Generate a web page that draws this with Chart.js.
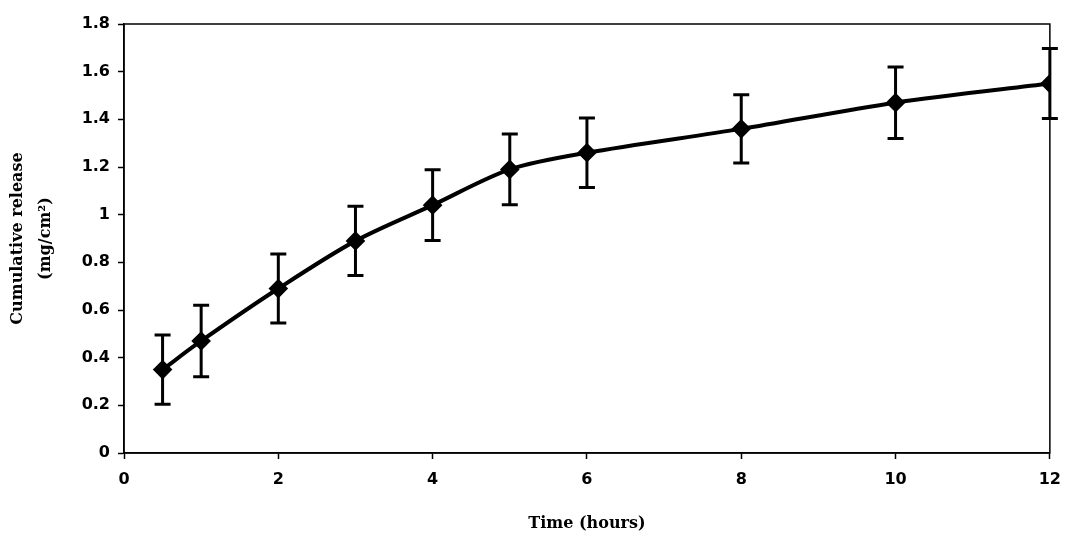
<!DOCTYPE html>
<html>
<head>
<meta charset="utf-8">
<script src="https://cdn.jsdelivr.net/npm/chart.js@4.4.1/dist/chart.umd.min.js"></script>
<style>
  html, body { margin: 0; padding: 0; background: #fff; }
  canvas { display: block; }
</style>
</head>
<body>
<canvas id="releaseChart" width="1072" height="539"></canvas>
<script>
// time points (hours)
const timeHours = [0.5, 1, 2, 3, 4, 5, 6, 8, 10, 12];
// cumulative release (mg/cm2)
const releaseMean = [0.35, 0.47, 0.69, 0.89, 1.04, 1.19, 1.26, 1.36, 1.47, 1.55];
// standard deviation
const releaseSD = [0.145, 0.15, 0.145, 0.145, 0.148, 0.148, 0.146, 0.143, 0.15, 0.147];

const xTicks = [0, 2, 4, 6, 8, 10, 12];
const yTicks = [0, 0.2, 0.4, 0.6, 0.8, 1, 1.2, 1.4, 1.6, 1.8];

const points = timeHours.map((t, i) => ({ x: t, y: releaseMean[i] }));

// error bars drawn behind the markers
const errorBars = {
  id: "errorBars",
  beforeDatasetsDraw(chart) {
    const { ctx, scales } = chart;
    ctx.save();
    ctx.strokeStyle = "#000";
    ctx.lineWidth = 3;
    timeHours.forEach((t, i) => {
      const px = scales.x.getPixelForValue(t);
      const top = scales.y.getPixelForValue(releaseMean[i] + releaseSD[i]);
      const bot = scales.y.getPixelForValue(releaseMean[i] - releaseSD[i]);
      ctx.beginPath();
      ctx.moveTo(px, top);
      ctx.lineTo(px, bot);
      ctx.moveTo(px - 8, top);
      ctx.lineTo(px + 8, top);
      ctx.moveTo(px - 8, bot);
      ctx.lineTo(px + 8, bot);
      ctx.stroke();
    });
    ctx.restore();
  },
};

// box round the plot area
const frame = {
  id: "frame",
  afterDraw(chart) {
    const { ctx, chartArea: a } = chart;
    ctx.save();
    ctx.strokeStyle = "#000";
    ctx.lineWidth = 1.5;
    ctx.strokeRect(a.left, a.top, a.right - a.left, a.bottom - a.top);
    ctx.restore();
  },
};

const tickFont = { family: "DejaVu Sans", size: 16, weight: "bold" };
const titleFont = { family: "DejaVu Serif", size: 16, weight: "bold" };

new Chart(document.getElementById("releaseChart"), {
  type: "line",
  data: {
    datasets: [
      {
        data: points,
        borderColor: "#000",
        borderWidth: 4,
        tension: 0.3,
        pointStyle: "rectRot",
        pointRadius: 7,
        pointBackgroundColor: "#000",
        pointBorderColor: "#000",
        fill: false,
      },
    ],
  },
  options: {
    responsive: false,
    animation: false,
    layout: { padding: { left: 0, right: 19, top: 24, bottom: 0 } },
    plugins: {
      legend: { display: false },
      tooltip: { enabled: false },
    },
    scales: {
      x: {
        type: "linear",
        min: 0,
        max: 12,
        afterBuildTicks: (s) => {
          s.ticks = xTicks.map((v) => ({ value: v }));
        },
        afterFit: (s) => {
          s.height = 86;
        },
        ticks: {
          color: "#000",
          font: tickFont,
          padding: 11,
          maxRotation: 0,
          callback: (v) => String(v),
        },
        grid: { drawOnChartArea: false, tickLength: 6, color: "#000", tickWidth: 1.5 },
        border: { color: "#000", width: 1.5 },
        title: {
          display: true,
          text: "Time (hours)",
          color: "#000",
          font: titleFont,
          padding: { top: 0, bottom: 6 },
        },
      },
      y: {
        type: "linear",
        min: 0,
        max: 1.8,
        afterBuildTicks: (s) => {
          s.ticks = yTicks.map((v) => ({ value: v }));
        },
        afterFit: (s) => {
          s.width = 124;
        },
        ticks: {
          color: "#000",
          font: tickFont,
          padding: 8,
          callback: (v) => String(+v.toFixed(1)),
        },
        grid: { drawOnChartArea: false, tickLength: 6, color: "#000", tickWidth: 1.5 },
        border: { color: "#000", width: 1.5 },
        title: {
          display: true,
          text: ["Cumulative release", "(mg/cm²)"],
          color: "#000",
          font: { ...titleFont, lineHeight: 1.8 },
          padding: { top: 3, bottom: 0 },
        },
      },
    },
  },
  plugins: [errorBars, frame],
});
</script>
</body>
</html>
